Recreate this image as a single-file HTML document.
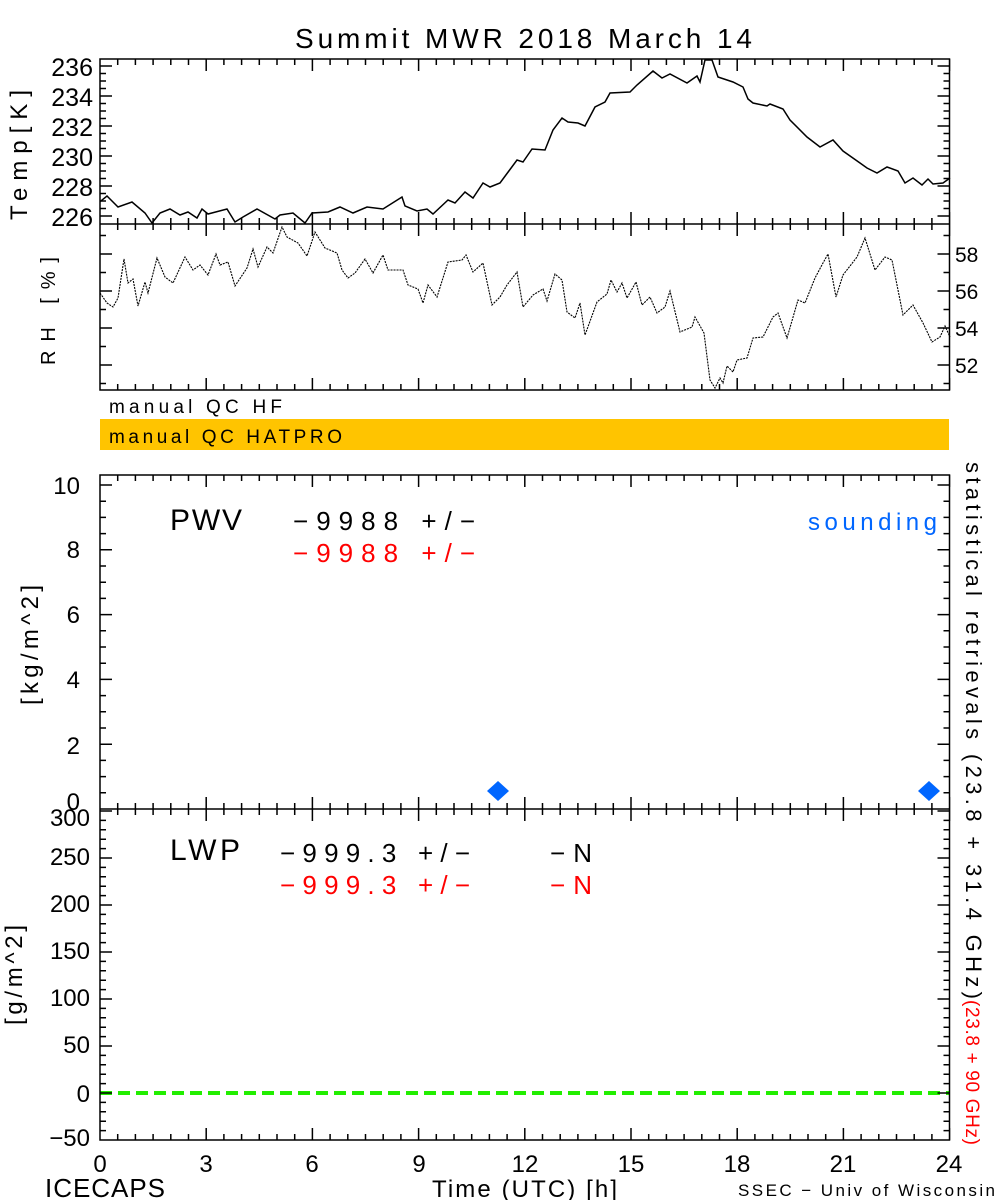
<!DOCTYPE html>
<html><head><meta charset="utf-8"><style>
html,body{margin:0;padding:0;background:#fff;}
svg{display:block;font-family:"Liberation Sans",sans-serif;}
</style></head><body>
<svg id="s" width="1000" height="1200" xmlns="http://www.w3.org/2000/svg">
<rect width="1000" height="1200" fill="#fff"/>
<text x="295" y="48" font-size="28" textLength="457" lengthAdjust="spacing">Summit MWR 2018 March 14</text>
<g font-size="25" text-anchor="end">
<text x="93" y="76">236</text><text x="93" y="106">234</text><text x="93" y="136">232</text>
<text x="93" y="166">230</text><text x="93" y="196">228</text><text x="93" y="226">226</text>
</g>
<text transform="translate(27,220) rotate(-90)" font-size="24" textLength="130" lengthAdjust="spacing">Temp[K]</text>
<g font-size="21" text-anchor="start">
<text x="955" y="262">58</text><text x="955" y="299">56</text><text x="955" y="336">54</text><text x="955" y="373">52</text>
</g>
<text transform="translate(55,365) rotate(-90)" font-size="20" textLength="108" lengthAdjust="spacing">RH [%]</text>
<text x="109" y="413" font-size="19" textLength="173" lengthAdjust="spacing">manual QC HF</text>
<rect x="100" y="419" width="849" height="31" fill="#FFC400"/>
<text x="109" y="443" font-size="19" textLength="233" lengthAdjust="spacing">manual QC HATPRO</text>
<g font-size="24" text-anchor="end">
<text x="80" y="494">10</text><text x="80" y="558">8</text><text x="80" y="623">6</text>
<text x="80" y="688">4</text><text x="80" y="754">2</text><text x="80" y="810">0</text>
</g>
<text transform="translate(38,705) rotate(-90)" font-size="24" textLength="120" lengthAdjust="spacing">[kg/m^2]</text>
<text x="170" y="530" font-size="30" textLength="72" lengthAdjust="spacing">PWV</text>
<text x="293" y="530" font-size="26" textLength="182" lengthAdjust="spacing">−9988 +/−</text>
<text x="293" y="562" font-size="26" fill="#f00" textLength="182" lengthAdjust="spacing">−9988 +/−</text>
<text x="808" y="530" font-size="24" fill="#0066FF" textLength="129" lengthAdjust="spacing">sounding</text>
<g font-size="24" text-anchor="end">
<text x="90" y="826">300</text><text x="90" y="865">250</text><text x="90" y="912">200</text>
<text x="90" y="959">150</text><text x="90" y="1006">100</text><text x="90" y="1053">50</text>
<text x="90" y="1102">0</text><text x="90" y="1146">−50</text>
</g>
<text transform="translate(22,1025) rotate(-90)" font-size="24" textLength="100" lengthAdjust="spacing">[g/m^2]</text>
<text x="170" y="860" font-size="30" textLength="70" lengthAdjust="spacing">LWP</text>
<text x="280" y="862" font-size="26" textLength="190" lengthAdjust="spacing">−999.3 +/−</text>
<text x="550" y="862" font-size="26" textLength="42" lengthAdjust="spacing">−N</text>
<text x="280" y="894" font-size="26" fill="#f00" textLength="190" lengthAdjust="spacing">−999.3 +/−</text>
<text x="550" y="894" font-size="26" fill="#f00" textLength="42" lengthAdjust="spacing">−N</text>
<text transform="translate(966,462) rotate(90)" font-size="22" textLength="537" lengthAdjust="spacing">statistical retrievals (23.8 + 31.4 GHz)</text>
<text transform="translate(966,1000) rotate(90)" font-size="19" fill="#f00" textLength="145" lengthAdjust="spacing">(23.8 + 90 GHz)</text>
<line x1="100" y1="1093" x2="949" y2="1093" stroke="#22ee00" stroke-width="4" stroke-dasharray="12,6"/>
<polygon points="498,781 509,791 498,801 487,791" fill="#0066FF"/>
<polygon points="929,781 940,791 929,801 918,791" fill="#0066FF"/>
<g font-size="24" text-anchor="middle">
<text x="100" y="1172">0</text><text x="206" y="1172">3</text><text x="312" y="1172">6</text><text x="419" y="1172">9</text>
<text x="525" y="1172">12</text><text x="631" y="1172">15</text><text x="737" y="1172">18</text><text x="843" y="1172">21</text><text x="949" y="1172">24</text>
</g>
<text x="45" y="1197" font-size="26" textLength="120" lengthAdjust="spacing">ICECAPS</text>
<text x="432" y="1197" font-size="24" textLength="185" lengthAdjust="spacing">Time (UTC) [h]</text>
<text x="738" y="1196" font-size="17" textLength="257" lengthAdjust="spacing">SSEC − Univ of Wisconsin</text>
<g id="ax" stroke="#000" stroke-width="1.5" fill="none"></g>
<polyline fill="none" stroke="#000" stroke-width="1.5" points="100,201.7 107,196 118,207 132,202 145,213 152,223 160,213 170,209 180,215 188,212 197,218 202,209 208,214 227,209 235,222 243,217 257,209 275,219 280,215 293,213 305,223 312,213 328,212 340,207 353,213 367,207 383,209 402,197 405,206 417,211 427,209 433,214 448,200 455,203 465,192 473,198 483,183 490,187 500,183 517,160 523,162 532,149 545,150 553,130 562,118 568,122 578,123 585,126 595,107 605,102 610,93 630,92 637,85 653,71 662,78 670,74 687,83 697,76 700,82 705,60 712,60 718,77 733,82 743,87 748,99 753,103 767,106 770,104 783,109 790,120 807,137 820,147 833,140 843,151 860,163 867,168 877,173 887,167 898,171 905,183 913,178 922,185 928,179 933,184 943,183 950,178"/>
<polyline fill="none" stroke="#000" stroke-width="1.1" stroke-dasharray="2,1" points="100,293 107,303 113,307 118,298 124,259 128,283 133,279 138,306 145,282 148,293 157,258 165,277 173,283 185,257 193,270 200,265 208,275 216,254 220,265 228,262 235,286 247,268 253,249 258,267 267,247 273,253 282,227 287,237 298,243 307,256 315,232 325,248 337,253 342,270 348,278 355,273 365,259 373,273 383,255 388,270 403,270 408,285 418,289 423,303 428,285 437,297 448,262 462,260 466,255 473,272 483,263 492,305 500,297 507,285 517,272 523,307 533,295 543,289 547,301 555,274 562,280 567,312 575,318 580,303 585,335 593,313 597,302 607,294 611,280 617,292 622,283 627,298 636,282 642,305 650,297 657,313 665,307 670,291 680,332 692,327 695,317 704,333 710,380 715,388 720,378 723,383 727,366 733,372 737,360 747,358 753,338 763,337 773,317 778,313 787,338 798,300 805,303 815,278 823,263 828,254 836,297 843,275 857,257 865,238 875,270 885,257 892,260 903,315 913,305 923,323 932,342 940,337 945,326 950,337"/>
</svg>
<script>
var g=document.getElementById('ax'),d='';
function L(a,b,c,e){d+='M'+a+' '+b+'L'+c+' '+e;}
var X0=100,X1=949.5,S=35.4;
[[59,224],[224,390],[475,809],[809,1140]].forEach(function(p){
 d+='M'+X0+' '+p[0]+'H'+X1+'V'+p[1]+'H'+X0+'Z';
 for(var h=0;h<=48;h++){var x=X0+h*S/2,l=(h%6==0)?12:6;L(x,p[1],x,p[1]-l);L(x,p[0],x,p[0]+l);}
});
for(var v=0;v<=21;v++){var y=216-v*7.5,l=(v%4==0)?12:6;if(y<59)continue;L(X0,y,X0+l,y);L(X1,y,X1-l,y);}
for(var v=0;v<=8;v++){var y=365+18.5-v*18.5;if(y>390||y<224)continue;var l=(v%2==1)?12:6;L(X0,y,X0+l,y);L(X1,y,X1-l,y);}
for(var v=0;v<=20;v++){var y=809-v*16.2,l=(v%4==0)?12:6;L(X0,y,X0+l,y);L(X1,y,X1-l,y);}
for(var v=-50;v<=300;v+=10){var y=1093-v*0.94,l=(v%50==0)?12:6;if(y<809)continue;L(X0,y,X0+l,y);L(X1,y,X1-l,y);}
var p=document.createElementNS('http://www.w3.org/2000/svg','path');p.setAttribute('d',d);g.appendChild(p);
</script>
</body></html>
